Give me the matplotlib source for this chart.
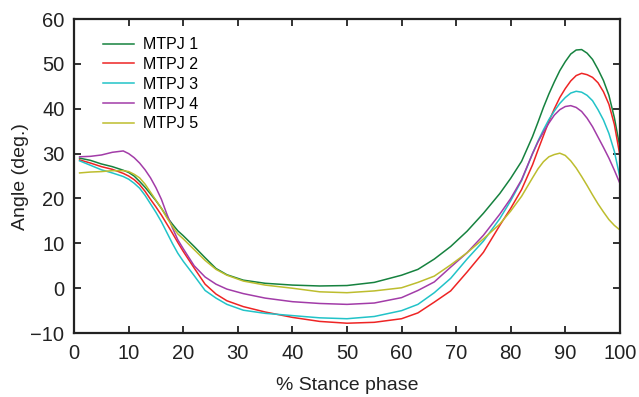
import numpy as np
import matplotlib
matplotlib.use('Agg')
import matplotlib.pyplot as plt

matplotlib.rcParams['font.family'] = ['Liberation Sans', 'DejaVu Sans']

# % stance phase (shared x for all joints)
stance = [1, 3, 5, 7, 9, 10, 11, 12, 13, 14, 15, 16, 17, 18, 19, 20, 22, 24, 26, 28, 31,
          35, 40, 45, 50, 55, 60, 63, 66, 69, 72, 75, 78, 80, 82, 84, 85, 86, 87, 88, 89,
          90, 91, 92, 93, 94, 95, 96, 97, 98, 99, 100]

mtpj1 = [29.0, 28.5, 27.7, 27.1, 26.3, 25.8, 25.0, 23.8, 22.5, 21.0, 19.5, 17.8, 15.9, 14.3,
         12.8, 11.7, 9.3, 6.8, 4.4, 3.0, 1.8,
         1.1, 0.7, 0.5, 0.6, 1.3, 2.9, 4.2, 6.5, 9.3, 12.7, 16.7, 21.1, 24.5, 28.3, 33.8,
         37.0, 40.3, 43.3, 46.0, 48.5,
         50.5, 52.2, 53.1, 53.2, 52.4, 51.0, 48.8, 46.3, 43.0, 38.0, 31.5]
mtpj2 = [28.6, 27.9, 27.1, 26.5, 25.6, 25.0, 24.2, 23.1, 21.6, 19.8, 18.1, 16.3, 14.3, 12.3,
         10.2, 8.2, 4.5, 0.9, -1.3, -2.8, -4.1,
         -5.3, -6.5, -7.4, -7.8, -7.6, -6.8, -5.5, -3.1, -0.6, 3.6, 8.0, 14.0, 17.8, 22.0,
         27.5, 30.8, 34.0, 37.2, 40.0, 42.5,
         44.5, 46.2, 47.4, 47.9, 47.6, 47.0, 45.8, 43.8, 41.0, 36.5, 29.7]
mtpj3 = [28.4, 27.4, 26.4, 25.7, 24.9, 24.3, 23.4, 22.3, 20.7, 18.8, 16.9, 14.8, 12.4, 10.0,
         7.8, 6.0, 2.8, -0.5, -2.2, -3.6, -4.9,
         -5.6, -6.1, -6.6, -6.8, -6.3, -5.0, -3.6, -1.0, 2.2, 6.5, 10.5, 15.5, 19.5, 24.0,
         30.0, 32.8, 35.3, 37.6, 39.5, 41.2,
         42.5, 43.5, 43.9, 43.7, 43.0, 41.8, 39.8, 37.5, 34.5, 30.5, 24.8]
mtpj4 = [29.3, 29.4, 29.7, 30.3, 30.6, 30.0, 29.1, 27.9, 26.4, 24.6, 22.4, 19.8, 16.5, 13.5,
         10.8, 8.8, 5.0, 2.5, 0.9, -0.2, -1.2,
         -2.2, -3.0, -3.4, -3.6, -3.3, -2.1, -0.5, 1.4, 4.7, 7.9, 11.8, 16.5, 20.0, 24.2,
         30.0, 32.6, 34.8, 36.8, 38.6, 39.8,
         40.5, 40.7, 40.3, 39.4, 37.9, 36.0, 33.7, 31.4, 29.0, 26.3, 23.4]
mtpj5 = [25.7, 25.9, 26.0, 26.2, 26.2, 26.0, 25.4, 24.6, 23.2, 21.4, 19.6, 17.8, 15.7, 13.8,
         12.1, 11.0, 8.6, 6.2, 4.2, 2.9, 1.6,
         0.7, 0.0, -0.8, -1.0, -0.6, 0.1, 1.3, 2.7, 5.2, 7.9, 11.0, 14.3, 17.2, 20.5,
         24.6, 26.6, 28.2, 29.3, 29.8, 30.1,
         29.6, 28.4, 26.8, 24.9, 22.9, 20.8, 18.8, 17.0, 15.3, 14.0, 13.0]

labels = ['MTPJ 1', 'MTPJ 2', 'MTPJ 3', 'MTPJ 4', 'MTPJ 5']
colors = ['#16823f', '#ee2424', '#22c3c8', '#a23ca8', '#bdbd2e']
series = [mtpj1, mtpj2, mtpj3, mtpj4, mtpj5]

fig = plt.figure(figsize=(6.39, 3.97), dpi=100)
ax = fig.add_axes([0.116, 0.161, 0.854, 0.791])

for vals, lab, col in zip(series, labels, colors):
    ax.plot(stance, vals, color=col, lw=1.1, label=lab, solid_joinstyle='round')

ax.set_xlim(0, 100)
ax.set_ylim(-10, 60)
ax.set_xticks(np.arange(0, 101, 10))
ax.set_yticks(np.arange(-10, 61, 10))
ax.tick_params(direction='in', length=5, width=1.3, top=True, right=True,
               labelsize=14.5, colors='#222222')
ax.tick_params(axis='x', pad=8)
ax.tick_params(axis='y', pad=7)
for sp in ax.spines.values():
    sp.set_linewidth(1.6)
    sp.set_color('#222222')

ax.set_xlabel('% Stance phase', fontsize=14, color='#222222', labelpad=10)
ax.set_ylabel('Angle (deg.)', fontsize=14, color='#222222', labelpad=1)

ax.legend(loc='upper left', bbox_to_anchor=(0.052, 0.942), frameon=False,
          fontsize=11.5, handlelength=2.0, handletextpad=0.55, labelspacing=0.3,
          borderpad=0, borderaxespad=0)

plt.savefig('out.png', dpi=100)
